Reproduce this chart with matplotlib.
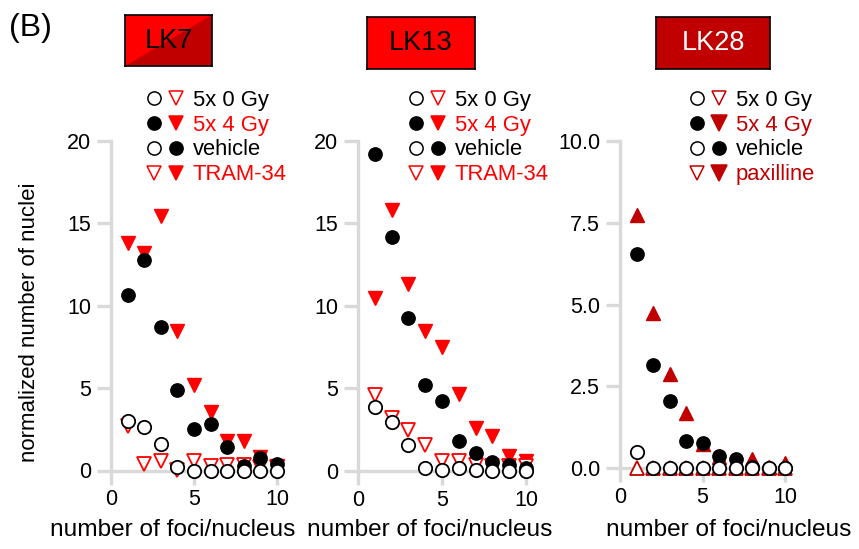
import numpy as np
import matplotlib
matplotlib.use('Agg')
import matplotlib.pyplot as plt
from matplotlib.lines import Line2D
from matplotlib.legend_handler import HandlerTuple

plt.rc('font', family='Liberation Sans')

# number of foci per nucleus
foci = [1, 2, 3, 4, 5, 6, 7, 8, 9, 10]

# LK7
lk7_0gy_vehicle = [3.03, 2.63, 1.58, 0.2, 0.0, 0.0, 0.0, 0.0, 0.0, 0.0]
lk7_0gy_tram = [2.7, 0.37, 0.6, 0.05, 0.55, 0.3, 0.35, 0.35, 0.2, 0.2]
lk7_4gy_vehicle = [10.65, 12.8, 8.7, 4.9, 2.53, 2.8, 1.42, 0.3, 0.75, 0.4]
lk7_4gy_tram = [13.8, 13.2, 15.45, 8.45, 5.17, 3.58, 1.78, 1.78, 0.8, 0.3]

# LK13
lk13_0gy_vehicle = [3.88, 2.93, 1.56, 0.15, 0.05, 0.15, 0.05, 0.0, 0.0, 0.0]
lk13_0gy_tram = [4.59, 3.2, 2.47, 1.56, 0.6, 0.6, 0.35, 0.3, 0.3, 0.3]
lk13_4gy_vehicle = [19.2, 14.15, 9.24, 5.2, 4.24, 1.82, 1.09, 0.55, 0.35, 0.15]
lk13_4gy_tram = [10.5, 15.8, 11.3, 8.47, 7.48, 4.63, 2.6, 2.1, 0.91, 0.59]

# LK28
lk28_0gy_vehicle = [0.5, 0.0, 0.0, 0.0, 0.0, 0.0, 0.0, 0.0, 0.0, 0.0]
lk28_0gy_pax = [0.0, 0.0, 0.0, 0.0, 0.0, 0.0, 0.0, 0.0, 0.0, 0.0]
lk28_4gy_vehicle = [6.55, 3.16, 2.05, 0.84, 0.76, 0.37, 0.28, 0.05, 0.0, 0.0]
lk28_4gy_pax = [7.75, 4.76, 2.89, 1.7, 0.75, 0.35, 0.2, 0.27, 0.05, 0.15]

RED = '#ff0000'
DARKRED = '#c00000'
GRAY = '#d9d9d9'
W, H = 859, 549

fig = plt.figure(figsize=(W / 100, H / 100), dpi=100)


def make_axes(x0, x10, y0, ytop_px, ytop):
    """Place an axes so that data (0,0), (10,ytop) land on given pixels."""
    sx = (x10 - x0) / 10.0
    sy = (y0 - ytop_px) / ytop
    xlo, xhi = -0.8, 10.8
    ylo, yhi = -0.06 * ytop, 1.03 * ytop
    left = x0 + xlo * sx
    right = x0 + xhi * sx
    bottom = y0 - ylo * sy
    top = y0 - yhi * sy
    ax = fig.add_axes([left / W, 1 - bottom / H, (right - left) / W,
                       (bottom - top) / H])
    ax.set_xlim(xlo, xhi)
    ax.set_ylim(ylo, yhi)
    for s in ['top', 'right']:
        ax.spines[s].set_visible(False)
    for s in ['left', 'bottom']:
        ax.spines[s].set_color(GRAY)
        ax.spines[s].set_linewidth(2.4)
        ax.spines[s].set_position(('data', 0))
    ax.spines['left'].set_bounds(0, ytop)
    ax.spines['bottom'].set_bounds(0, 10)
    ax.set_xticks([0, 5, 10])
    ax.tick_params(axis='both', color=GRAY, width=2.4, length=10,
                   labelsize=15.5)
    ax.tick_params(axis='x', pad=3.6)
    ax.tick_params(axis='y', pad=4.3)
    ax.patch.set_alpha(0)
    return ax


def scatter_set(ax, open_tri, filled_tri, open_circ, filled_circ, tcolor,
                tri='v'):
    ms = 9.6
    ax.plot(foci, filled_tri, tri, color=tcolor, ms=ms, mec=tcolor,
            clip_on=False, zorder=3)
    ax.plot(foci, open_tri, tri, mfc='white', mec=tcolor, ms=ms, mew=1.3,
            clip_on=False, zorder=3)
    ax.plot(foci, filled_circ, 'o', color='black', ms=ms, clip_on=False,
            zorder=4)
    ax.plot(foci, open_circ, 'o', mfc='white', mec='black', ms=ms, mew=1.3,
            clip_on=False, zorder=4)


def add_legend(x_px, y_px, tcolor, drug, big=False):
    ms = 9.5
    def m(marker, filled, color, size=ms):
        return Line2D([], [], ls='none', marker=marker, ms=size,
                      mfc=color if filled else 'white', mec=color, mew=1.1)
    handles = [
        (m('o', False, 'black'), m('v', False, tcolor)),
        (m('o', True, 'black'), m('v', True, tcolor, 11.5 if big else ms)),
        (m('o', False, 'black'), m('o', True, 'black')),
        (m('v', False, tcolor), m('v', True, tcolor, 11.5 if big else ms)),
    ]
    labels = ['5x 0 Gy', '5x 4 Gy', 'vehicle', drug]
    fig.legend(handles, labels, loc='upper left',
               bbox_to_anchor=(x_px / W, 1 - y_px / H),
               bbox_transform=fig.transFigure, frameon=False,
               fontsize=15.8, borderpad=0, borderaxespad=0,
               labelspacing=0.17, handlelength=1.95, handletextpad=0.3,
               labelcolor=['black', tcolor, 'black', tcolor],
               handler_map={tuple: HandlerTuple(ndivide=None, pad=0)})


def title_box(x1, y1, x2, y2, text, color, txtcolor, split=None):
    ax = fig.add_axes([x1 / W, 1 - y2 / H, (x2 - x1) / W, (y2 - y1) / H])
    ax.set_xlim(0, 1)
    ax.set_ylim(0, 1)
    ax.set_xticks([])
    ax.set_yticks([])
    ax.fill([0, 1, 1, 0], [0, 0, 1, 1], color=color)
    if split is not None:
        ax.fill([0, 1, 1], [0, 0, 1], color=split)
    for s in ax.spines.values():
        s.set_color('black')
        s.set_linewidth(1.2)
    ax.text(0.5, 0.5, text, ha='center', va='center', fontsize=19.5,
            color=txtcolor)


# Panel LK7
ax1 = make_axes(111, 277, 470.5, 141, 20)
scatter_set(ax1, lk7_0gy_tram, lk7_4gy_tram, lk7_0gy_vehicle,
            lk7_4gy_vehicle, RED)
ax1.set_yticks([0, 5, 10, 15, 20])

# Panel LK13
ax2 = make_axes(358, 526, 470.7, 141, 20)
scatter_set(ax2, lk13_0gy_tram, lk13_4gy_tram, lk13_0gy_vehicle,
            lk13_4gy_vehicle, RED)
ax2.set_yticks([0, 5, 10, 15, 20])

# Panel LK28
ax3 = make_axes(620, 785, 468.3, 141, 10)
scatter_set(ax3, lk28_0gy_pax, lk28_4gy_pax, lk28_0gy_vehicle,
            lk28_4gy_vehicle, DARKRED, tri='^')
ax3.set_yticks([0, 2.5, 5, 7.5, 10])
ax3.set_yticklabels(['0.0', '2.5', '5.0', '7.5', '10.0'])

# axis labels
for xc in [173, 430, 729]:
    fig.text(xc / W, 1 - 530 / H, 'number of foci/nucleus', ha='center',
             va='center', fontsize=17.6)
fig.text(30 / W, 1 - 322 / H, 'normalized number of nuclei', rotation=90,
         ha='center', va='center', fontsize=16)

# legends
add_legend(143.5, 90, RED, 'TRAM-34')
add_legend(405.5, 90, RED, 'TRAM-34')
add_legend(686.5, 90, DARKRED, 'paxilline', big=True)

# cell line boxes
title_box(125, 15, 212, 66, 'LK7', RED, 'black', split=DARKRED)
title_box(367, 17, 475, 69, 'LK13', RED, 'black')
title_box(656, 17, 770, 69, 'LK28', DARKRED, 'white')

fig.text(30 / W, 1 - 28 / H, '(B)', ha='center', va='center', fontsize=23)

fig.savefig('out.png', dpi=100)
